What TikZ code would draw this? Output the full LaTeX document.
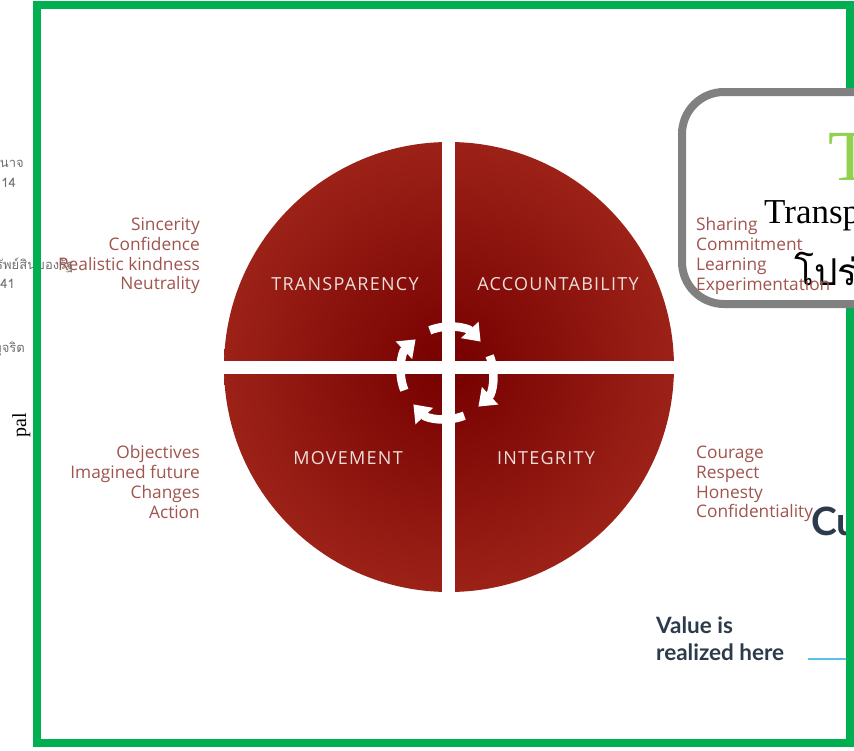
\documentclass[tikz,border=0pt]{standalone}
\usepackage{fontspec}
\setmainfont{Open Sans}
\newfontfamily\thaifont[Script=Thai]{Loma}
\newfontfamily\latofont{Lato}
\newfontfamily\seriffont{Liberation Serif}
\newfontfamily\quadfont[LetterSpace=7]{Open Sans}
\usetikzlibrary{arrows.meta,calc}
\definecolor{frameg}{HTML}{00B050}
\definecolor{boxgray}{HTML}{808080}
\definecolor{sidecol}{RGB}{160,84,78}
\definecolor{quadtxt}{RGB}{238,222,218}
\definecolor{redin}{RGB}{118,0,0}
\definecolor{redout}{RGB}{156,34,24}
\definecolor{slate}{HTML}{2C3B4B}
\definecolor{lightgreen}{HTML}{92D050}
\definecolor{skyline}{HTML}{5BC2EC}
\definecolor{fraggray}{RGB}{112,112,112}
\tikzset{
  sidetxt/.style={text=sidecol, font=\fontsize{17.3}{19.7}\selectfont, inner sep=0pt},
  quadlabel/.style={text=quadtxt, font=\quadfont\fontsize{18}{20}\selectfont, inner sep=0pt},
  frag/.style={text=fraggray, font=\thaifont\fontsize{13}{15}\selectfont, inner sep=0pt},
  cyclearrow/.style={white, line width=8.5pt, -{Triangle[width=23pt,length=16pt]}},
}
\begin{document}
\begin{tikzpicture}[x=1pt,y=-1pt]
\useasboundingbox (0,0) rectangle (854,750);
\clip (0,0) rectangle (854,750);
\fill[white] (0,0) rectangle (854,750);
% left fragments
\node[frag, anchor=base east] (f1) at (24,167) {นาจ};
\node[frag, anchor=base east] (f2) at (16,187) {.14};
\node[frag, anchor=base west] (f3) at (-4,269) {รัพย์สินของรัฐ};
\node[frag, anchor=base east] (f4) at (15,288) {.41};
\node[frag, anchor=base east] (f5) at (25,352) {ทุจริต};
\node[inner sep=0pt, font=\seriffont\fontsize{20}{22}\selectfont, rotate=90, anchor=base] (f6) at (26,425) {pal};
% bottom right
\node[inner sep=0pt, anchor=base west, text=slate, font=\latofont\bfseries\fontsize{39}{40}\selectfont] (cu) at (811,535) {Cu};
\node[inner sep=0pt, anchor=base west, text=slate, font=\latofont\bfseries\fontsize{22.5}{27}\selectfont] (v1) at (656,633) {Value is};
\node[inner sep=0pt, anchor=base west, text=slate, font=\latofont\bfseries\fontsize{22.5}{27}\selectfont] (v2) at (656,660) {realized here};
\coordinate (bl1) at (808,659);
\coordinate (bl2) at (860,659);
\draw[skyline, line width=2pt] (bl1) -- (bl2);
% green frame
\draw[frameg, line width=7.5pt] (37,5) rectangle (850,743);
% gray box
\draw[boxgray, line width=8pt, fill=white, rounded corners=42pt] (682,92) rectangle (960,304);
\node[inner sep=0pt, anchor=base west, text=lightgreen, font=\seriffont\fontsize{72}{72}\selectfont] (bt) at (828,180) {T};
\node[inner sep=0pt, anchor=base west, font=\seriffont\fontsize{35}{36}\selectfont] (btr) at (764,223) {Transp};
\node[inner sep=0pt, anchor=base west, font=\thaifont\fontsize{37}{38}\selectfont] (bth) at (794,285) {โปร่};
% circle
\coordinate (c) at (449,367);
\shade[inner color=redin, outer color=redout] (c) circle[radius=225pt];
\fill[white] (442,130) rectangle (455,605);
\fill[white] (212,361) rectangle (686,374);
\coordinate (ac) at (447,373);
\foreach \k in {0,1,2,3}{
  \draw[cyclearrow] ($(ac)+({112-90*\k}:46pt)$) arc[start angle={112-90*\k}, end angle={43-90*\k}, radius=46pt];
}
\node[quadlabel] (qt) at (345,284) {TRANSPARENCY};
\node[quadlabel] (qa) at (558,284) {ACCOUNTABILITY};
\node[quadlabel] (qm) at (348,458) {MOVEMENT};
\node[quadlabel] (qi) at (546,458) {INTEGRITY};
% side labels
\node[sidetxt, align=right, anchor=east] (s1) at (200,256) {Sincerity\\Confidence\\Realistic kindness\\Neutrality};
\node[sidetxt, align=right, anchor=east] (s2) at (200,482) {Objectives\\Imagined future\\Changes\\Action};
\node[sidetxt, align=left, anchor=west] (s3) at (696,256) {Sharing\\Commitment\\Learning\\Experimentation};
\node[sidetxt, align=left, anchor=west] (s4) at (696,484) {Courage\\Respect\\Honesty\\Confidentiality};
\end{tikzpicture}
\end{document}
